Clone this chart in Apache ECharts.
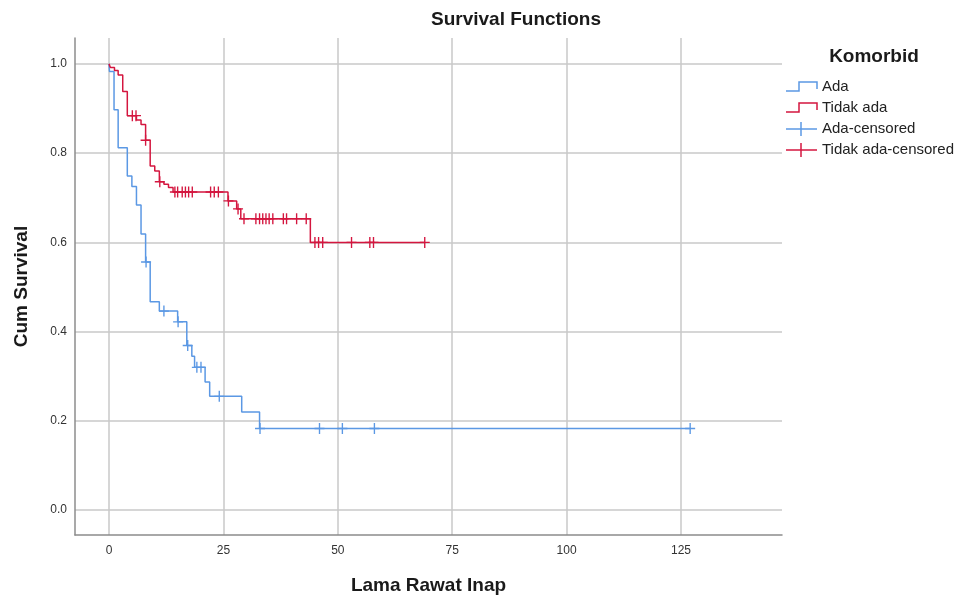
<!DOCTYPE html>
<html><head><meta charset="utf-8">
<script src="https://cdn.jsdelivr.net/npm/echarts@6/dist/echarts.min.js"></script>
<style>html,body{margin:0;padding:0;background:#fff}#c{width:963px;height:600px}</style>
</head><body><div id="c"></div>
<script>
// ---- data ----
const xTicks = [0, 25, 50, 75, 100, 125];
const yTicks = [0, 0.2, 0.4, 0.6, 0.8, 1.0];

const adaEventTimes = [0.1, 1.1, 2, 4, 5, 6, 7, 8, 9, 11, 15, 17, 18.1, 18.7, 21, 22, 29, 32.9];
const adaSurvival   = [0.983, 0.897, 0.812, 0.749, 0.725, 0.684, 0.619, 0.556, 0.467, 0.446, 0.422, 0.369, 0.345, 0.320, 0.287, 0.255, 0.220, 0.183];
const adaCensored   = [8.1, 12, 15.1, 17.2, 19.2, 20.1, 24.1, 33, 46, 51, 58, 127];

const tidakEventTimes = [0.3, 1.2, 2, 3, 4, 6, 7, 8, 9, 10, 11, 12, 13, 14, 26, 27.9, 28.8, 44];
const tidakSurvival   = [0.992, 0.985, 0.975, 0.938, 0.884, 0.874, 0.864, 0.829, 0.771, 0.760, 0.736, 0.730, 0.723, 0.713, 0.693, 0.675, 0.653, 0.600];
const tidakCensored   = [5.1, 5.9, 8, 11.1, 14.4, 15, 16, 16.7, 17.4, 18.2, 22.2, 23, 23.9, 26.1, 28.2, 29.5, 32.1, 32.9, 33.6, 34.3, 35, 35.8, 38.1, 38.8, 41, 43.1, 45, 45.8, 46.7, 53, 57, 57.8, 69];

const groupNames = ['Ada', 'Tidak ada', 'Ada-censored', 'Tidak ada-censored'];
const BLUE = '#5b98e4', RED = '#d4163f';

function stepData(times, surv, censored) {
  const pts = [[0, 1]];
  times.forEach((t, i) => pts.push([t, surv[i]]));
  const lastC = Math.max(...censored);
  if (lastC > times[times.length - 1]) pts.push([lastC, surv[surv.length - 1]]);
  return pts;
}
function survAt(times, surv, t) {
  let s = 1;
  for (let i = 0; i < times.length; i++) if (times[i] <= t) s = surv[i];
  return s;
}
function censorData(times, surv, censored) {
  return censored.map(t => [t, survAt(times, surv, t)]);
}

const PLUS = 'path://M0,5.25L11,5.25L11,6.75L0,6.75Z M4.75,0L6.25,0L6.25,12L4.75,12Z';
const FONT = '"Liberation Sans", Arial, sans-serif';

const chart = echarts.init(document.getElementById('c'), null, {renderer: 'canvas'});

function legendRow(i, yc, color, kind) {
  const els = [];
  if (kind === 'step') {
    els.push({type: 'polyline', shape: {points: [[786, yc + 4], [799, yc + 4], [799, yc - 5], [817, yc - 5], [817, yc + 2]]},
      style: {stroke: color, lineWidth: 1.5, fill: null}});
  } else {
    els.push({type: 'line', shape: {x1: 786, y1: yc, x2: 817, y2: yc}, style: {stroke: color, lineWidth: 1.5}});
    els.push({type: 'line', shape: {x1: 801, y1: yc - 7, x2: 801, y2: yc + 7}, style: {stroke: color, lineWidth: 1.5}});
  }
  els.push({type: 'text', x: 822, y: yc, style: {text: groupNames[i], fill: '#222', font: '15px ' + FONT, textVerticalAlign: 'middle', verticalAlign: 'middle'}});
  return els;
}

const option = {
  animation: false,
  backgroundColor: '#fff',
  title: {
    text: 'Survival Functions', left: 431, top: 10, padding: 0,
    textStyle: {fontFamily: FONT, fontSize: 19, fontWeight: 'bold', color: '#1a1a1a'}
  },
  grid: {left: 75, top: 38, width: 707, height: 500, containLabel: false},
  xAxis: {
    type: 'value', min: -7.43, max: 147.07,
    name: 'Lama Rawat Inap', nameLocation: 'middle', nameGap: 41,
    nameTextStyle: {fontFamily: FONT, fontSize: 19, fontWeight: 'bold', color: '#1a1a1a'},
    axisLine: {show: true, onZero: false, lineStyle: {color: '#8c8c8c', width: 1.5}},
    axisTick: {show: false, customValues: xTicks},
    axisLabel: {customValues: xTicks, margin: 10, fontFamily: FONT, fontSize: 12, color: '#333'},
    splitLine: {show: true, lineStyle: {color: '#c8c8c8', width: 1.5}}
  },
  yAxis: {
    type: 'value', min: -0.0557, max: 1.058,
    name: 'Cum Survival', nameLocation: 'middle', nameGap: 44, nameRotate: 90,
    nameTextStyle: {fontFamily: FONT, fontSize: 19, fontWeight: 'bold', color: '#1a1a1a'},
    axisLine: {show: true, onZero: false, lineStyle: {color: '#8c8c8c', width: 1.5}},
    axisTick: {show: false, customValues: yTicks},
    axisLabel: {customValues: yTicks, margin: 8, fontFamily: FONT, fontSize: 12, color: '#333',
      formatter: v => v.toFixed(1)},
    splitLine: {show: true, lineStyle: {color: '#c8c8c8', width: 1.5}}
  },
  series: [
    {name: groupNames[0], type: 'line', step: 'end', showSymbol: false, silent: true,
     data: stepData(adaEventTimes, adaSurvival, adaCensored), lineStyle: {color: BLUE, width: 1.5}, itemStyle: {color: BLUE}, z: 3},
    {name: groupNames[1], type: 'line', step: 'end', showSymbol: false, silent: true,
     data: stepData(tidakEventTimes, tidakSurvival, tidakCensored), lineStyle: {color: RED, width: 1.5}, itemStyle: {color: RED}, z: 4},
    {name: groupNames[2], type: 'scatter', symbol: PLUS, symbolSize: [10, 11], silent: true,
     data: censorData(adaEventTimes, adaSurvival, adaCensored), itemStyle: {color: BLUE, opacity: 1}, z: 5},
    {name: groupNames[3], type: 'scatter', symbol: PLUS, symbolSize: [10, 11], silent: true,
     data: censorData(tidakEventTimes, tidakSurvival, tidakCensored), itemStyle: {color: RED, opacity: 1}, z: 6}
  ],
  graphic: [
    {type: 'text', x: 874, y: 57, style: {text: 'Komorbid', fill: '#1a1a1a', font: 'bold 19px ' + FONT, textAlign: 'center', textVerticalAlign: 'middle', verticalAlign: 'middle', align: 'center'}},
    ...legendRow(0, 87, BLUE, 'step'),
    ...legendRow(1, 108, RED, 'step'),
    ...legendRow(2, 129, BLUE, 'plus'),
    ...legendRow(3, 150, RED, 'plus')
  ]
};
chart.setOption(option);
</script>
</body></html>
